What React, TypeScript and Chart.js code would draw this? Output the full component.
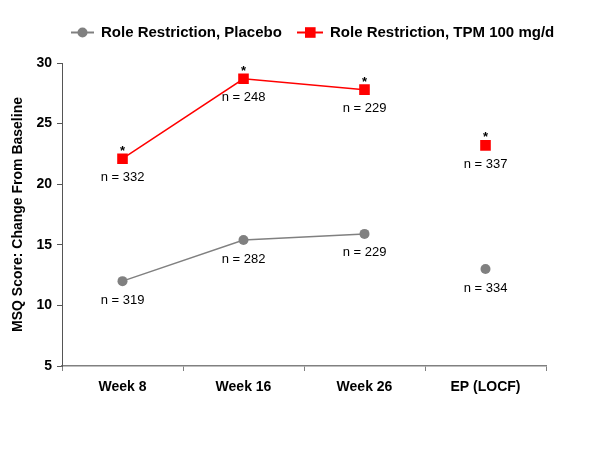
import React, { useEffect, useRef } from "react";
import { Chart, registerables } from "chart.js";

Chart.register(...registerables);

const categories = ["Week 8", "Week 16", "Week 26", "EP (LOCF)"];
const placeboValues = [12.0, 15.4, 15.9, 13.0];
const tpmValues = [22.1, 28.7, 27.8, 23.2];
const placeboN = ["n = 319", "n = 282", "n = 229", "n = 334"];
const tpmN = ["n = 332", "n = 248", "n = 229", "n = 337"];
const tpmStars = ["*", "*", "*", "*"];
const placeboLabel = "Role Restriction, Placebo";
const tpmLabel = "Role Restriction, TPM 100 mg/d";
const yAxisTitle = "MSQ Score: Change From Baseline";
const yMin = 5;
const yMax = 30;
const yStep = 5;

const FONT = 'Arial, "Liberation Sans", Helvetica, sans-serif';
const GRAY = "#808080";
const RED = "#ff0000";

const annotationsPlugin = {
  id: "nLabels",
  afterDatasetsDraw(chart: any) {
    const ctx = chart.ctx;
    ctx.save();
    ctx.fillStyle = "#000";
    ctx.textAlign = "center";
    const nSets = [placeboN, tpmN];
    chart.data.datasets.forEach((_ds: any, di: number) => {
      const meta = chart.getDatasetMeta(di);
      meta.data.forEach((pt: any, i: number) => {
        ctx.font = `13px ${FONT}`;
        ctx.textBaseline = "middle";
        ctx.fillText(nSets[di][i], pt.x, pt.y + 19);
        if (di === 1 && tpmStars[i]) {
          ctx.font = `bold 13px ${FONT}`;
          ctx.textBaseline = "alphabetic";
          ctx.fillText(tpmStars[i], pt.x, pt.y - 4);
        }
      });
    });
    ctx.restore();
  },
};

const legendPlugin = {
  id: "customLegend",
  afterDraw(chart: any) {
    const ctx = chart.ctx;
    ctx.save();
    const y = 32.5;
    // placebo
    ctx.strokeStyle = GRAY;
    ctx.lineWidth = 2;
    ctx.beginPath();
    ctx.moveTo(71, y);
    ctx.lineTo(94, y);
    ctx.stroke();
    ctx.fillStyle = GRAY;
    ctx.beginPath();
    ctx.arc(82.5, y, 5, 0, Math.PI * 2);
    ctx.fill();
    // tpm
    ctx.strokeStyle = RED;
    ctx.beginPath();
    ctx.moveTo(297, y);
    ctx.lineTo(323, y);
    ctx.stroke();
    ctx.fillStyle = RED;
    ctx.fillRect(305, y - 5.3, 10.6, 10.6);
    ctx.fillStyle = "#000";
    ctx.font = `bold 15px ${FONT}`;
    ctx.textBaseline = "middle";
    ctx.textAlign = "left";
    ctx.fillText(placeboLabel, 101, y);
    ctx.fillText(tpmLabel, 330, y);
    ctx.restore();
  },
};

export default function App() {
  const ref = useRef<HTMLCanvasElement | null>(null);
  useEffect(() => {
    if (!ref.current) return;
    const chart = new Chart(ref.current, {
      type: "line",
      data: {
        labels: categories,
        datasets: [
          {
            label: placeboLabel,
            data: placeboValues,
            borderColor: GRAY,
            backgroundColor: GRAY,
            borderWidth: 1.5,
            pointStyle: "circle",
            pointRadius: 5,
            pointBorderWidth: 0,
            pointBackgroundColor: GRAY,
            segment: {
              borderColor: (c: any) => (c.p1DataIndex === 3 ? "rgba(0,0,0,0)" : GRAY),
            },
          },
          {
            label: tpmLabel,
            data: tpmValues,
            borderColor: RED,
            backgroundColor: RED,
            borderWidth: 1.5,
            pointStyle: "rect",
            pointRadius: 7.5,
            pointBorderWidth: 0,
            pointBackgroundColor: RED,
            segment: {
              borderColor: (c: any) => (c.p1DataIndex === 3 ? "rgba(0,0,0,0)" : RED),
            },
          },
        ],
      },
      options: {
        animation: false,
        responsive: true,
        maintainAspectRatio: false,
        layout: { padding: { left: 6, right: 54, top: 63, bottom: 0 } },
        plugins: {
          legend: { display: false },
          tooltip: { enabled: false },
        },
        scales: {
          x: {
            type: "category",
            offset: true,
            grid: {
              display: true,
              drawOnChartArea: false,
              drawTicks: true,
              tickLength: 5,
              color: GRAY,
              offset: true,
            },
            border: { display: true, color: GRAY, width: 1.5 },
            ticks: {
              color: "#000",
              font: { family: FONT, size: 14, weight: "bold" },
              padding: 8,
              maxRotation: 0,
            },
            afterFit: (s: any) => {
              s.height = 83;
            },
          },
          y: {
            min: yMin,
            max: yMax,
            grid: {
              display: true,
              drawOnChartArea: false,
              drawTicks: true,
              tickLength: 5,
              color: "#555",
            },
            border: { display: true, color: "#555", width: 1 },
            ticks: {
              stepSize: yStep,
              color: "#000",
              font: { family: FONT, size: 14, weight: "bold" },
              padding: 5,
            },
            title: {
              display: true,
              text: yAxisTitle,
              color: "#000",
              font: { family: FONT, size: 14, weight: "bold" },
              padding: { top: 4, bottom: 0 },
            },
            afterFit: (s: any) => {
              s.width = 56;
            },
          },
        },
      },
      plugins: [annotationsPlugin, legendPlugin],
    });
    return () => chart.destroy();
  }, []);
  return (
    <div style={{ position: "fixed", left: 0, top: 0, width: 600, height: 449, background: "#fff" }}>
      <canvas ref={ref} />
    </div>
  );
}
